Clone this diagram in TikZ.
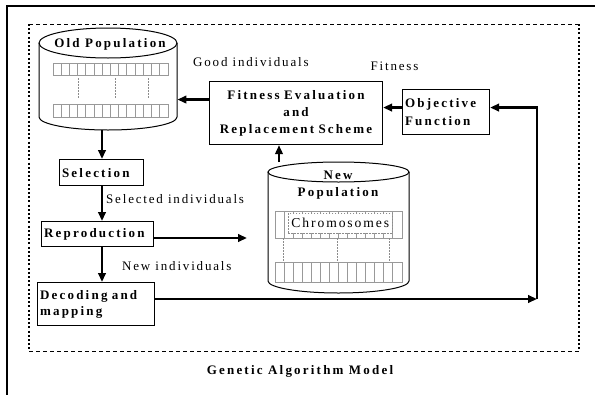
\documentclass[tikz,border=0pt]{standalone}
\usepackage{fontspec}
\setmainfont{Liberation Serif}[LetterSpace=14]
\newfontfamily\bsp{Liberation Serif}[LetterSpace=17]
\usetikzlibrary{arrows.meta}
\tikzset{
  box/.style={draw, line width=1.1pt, inner ysep=0pt, inner xsep=2.5pt, anchor=north west, blab},
  arr/.style={line width=2.3pt, -{Triangle[length=9pt,width=7.5pt]}},
  cyl/.style={line width=1pt},
  cell/.style={draw=black!40, line width=0.9pt},
  gdot/.style={draw=black!45, line width=0.6pt, dash pattern=on 1.5pt off 1.5pt},
  lab/.style={font=\fontsize{13}{15}\selectfont, inner sep=0pt},
  blab/.style={font=\bsp\bfseries\fontsize{13}{17}\selectfont},
  dashline/.style={line width=1pt, dash pattern=on 4pt off 3pt},
  dotline/.style={line width=2.2pt, dash pattern=on 2pt off 2.2pt},
}
\begin{document}
\begin{tikzpicture}[x=1pt, y=-1pt]
\useasboundingbox (0,0) rectangle (595,394);
% outer frame (only top and left visible)
\draw[line width=2.4pt] (7,430) -- (7,6) -- (640,6);
% dashed frame
\draw[dashline] (29,24) -- (579,24);
\draw[dashline] (29,351) -- (579,351);
\draw[dotline] (29,24) -- (29,351);
\draw[dotline] (579,24) -- (579,351);

% ---------- Old Population cylinder ----------
\node[minimum width=138pt, minimum height=102pt, inner sep=0pt, anchor=north west] (oldpop) at (39,28) {};
\draw[cyl] (108,43) ellipse [x radius=69pt, y radius=15pt];
\draw[cyl] (39,43) -- (39,117) arc[start angle=180, end angle=360, x radius=69pt, y radius=13pt] -- (177,43);
\node[blab, inner sep=0pt] (oldlab) at (110,44) {Old Population};
\foreach \i in {0,...,13} {
  \draw[cell] (53+\i*8.214,63) rectangle ++(8.214,12);
  \draw[cell] (53+\i*8.214,104) rectangle ++(8.214,13);
}
\foreach \x in {78,115,148} \draw[gdot] (\x,78) -- (\x,99);

% ---------- New Population cylinder ----------
\node[minimum width=141pt, minimum height=131pt, inner sep=0pt, anchor=north west] (newpop) at (268,162) {};
\draw[cyl] (338.5,172) ellipse [x radius=70.5pt, y radius=10pt];
\draw[cyl] (268,172) -- (268,281) arc[start angle=180, end angle=360, x radius=70.5pt, y radius=12pt] -- (409,172);
\node[blab, inner sep=0pt] (newlab1) at (338,175) {New};
\node[blab, inner sep=0pt] (newlab2) at (338,193) {Population};
\foreach \i in {0,...,13} {
  \draw[cell] (275+\i*9.071,211) rectangle ++(9.071,27);
  \draw[cell] (275+\i*9.071,262) rectangle ++(9.071,20);
}
\node[draw=black!45, fill=white, line width=0.6pt, dash pattern=on 1.5pt off 1.5pt,
      minimum width=104pt, minimum height=20pt, inner sep=0pt, anchor=north west,
      font=\fontsize{13.6}{15}\selectfont] (chrom) at (288,213) {Chromosomes};
\foreach \x in {283,337,389} \draw[gdot] (\x,238) -- (\x,262);

% ---------- boxes ----------
\node[box, minimum width=173pt, minimum height=63pt, text width=168pt, align=center] (fit) at (209,81)
  {Fitness Evaluation\\and\\Replacement Scheme};
\node[box, minimum width=87pt, minimum height=45pt, text width=82pt, align=left,
      font=\bsp\bfseries\fontsize{13}{18}\selectfont] (obj) at (402,89) {Objective\\Function};
\node[box, minimum width=84pt, minimum height=26pt, text width=79pt, align=left] (sel) at (59,159) {Selection};
\node[box, minimum width=112pt, minimum height=25pt, text width=107pt, align=left] (rep) at (41,221) {Reproduction};
\node[box, minimum width=117pt, minimum height=43pt, text width=112pt, align=left,
      font=\bsp\bfseries\fontsize{13}{16}\selectfont] (dec) at (37,282) {Decoding and\\mapping};

% ---------- labels ----------
\node[lab, anchor=west] (good) at (193,62) {Good individuals};
\node[lab] (fitlab) at (394.5,66) {Fitness};
\node[lab, anchor=west] (sellab) at (106,199) {Selected individuals};
\node[lab, anchor=west] (newind) at (122,266) {New individuals};
\node[blab, inner sep=0pt] (title) at (300,371) {Genetic Algorithm Model};

% ---------- connectors ----------
\coordinate (spine) at (102,0);
\coordinate (npx) at (279,0);
\coordinate (repend) at (247,238);
\coordinate (corner) at (537,299);
\draw[arr] ([yshift=13.5pt]fit.west) -- ([yshift=13.5pt]fit.west -| oldpop.east);
\draw[arr] ([yshift=4.5pt]obj.west) -- ([yshift=4.5pt]obj.west -| fit.east);
\draw[arr] (spine |- oldpop.south) -- (spine |- sel.north);
\draw[arr] (spine |- sel.south) -- (spine |- rep.north);
\draw[arr] (spine |- rep.south) -- (spine |- dec.north);
\draw[arr] (rep.east |- repend) -- (repend);
\draw[arr] (npx |- newpop.north) -- (npx |- fit.south);
\draw[arr] (dec.east |- corner) -- (corner);
\draw[arr] (corner) |- ([yshift=4.5pt]obj.east);
\end{tikzpicture}
\end{document}
